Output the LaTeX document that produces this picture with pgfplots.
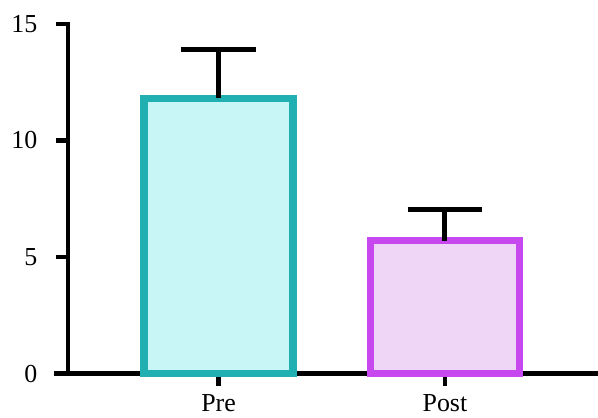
\documentclass[border=0pt]{standalone}
\usepackage{fontspec}
\setmainfont{Liberation Serif}
\usepackage{pgfplots}
\pgfplotsset{compat=1.18}
\definecolor{preedge}{RGB}{32,176,178}
\definecolor{prefill}{RGB}{200,246,246}
\definecolor{postedge}{RGB}{200,72,240}
\definecolor{postfill}{RGB}{239,214,246}
\begin{document}
\begin{tikzpicture}
\begin{axis}[
  at={(0,0)}, anchor=south west,
  scale only axis,
  width=530pt, height=351pt,
  xmin=-0.666, xmax=1.666,
  ymin=0, ymax=15,
  axis lines=left,
  axis line style={-, line width=4.5pt, line cap=rect},
  x axis line style={shorten <=-12pt},
  xtick={0,1}, xticklabels={Pre,Post},
  ytick={0,5,10,15},
  tick align=outside,
  major tick length=12pt,
  tick style={line width=4.5pt, black},
  font=\fontsize{26}{30}\selectfont,
  /pgf/number format/assume math mode=true,
  yticklabel style={xshift=-15pt},
  xticklabel style={anchor=base, inner sep=0pt, text depth=0pt, yshift=-26pt},
  clip=false,
]
\addplot[ybar, bar width=149.5pt, draw=preedge, fill=prefill, line width=7.5pt,
  error bars/.cd, y dir=plus, y explicit,
  error bar style={line width=5pt, black},
  error mark options={mark size=37.5pt, line width=5pt, black, rotate=90}]
  coordinates {(0,11.81) +- (0,2.08)};
\addplot[ybar, bar width=149.5pt, draw=postedge, fill=postfill, line width=7.5pt,
  error bars/.cd, y dir=plus, y explicit,
  error bar style={line width=5pt, black},
  error mark options={mark size=37.5pt, line width=5pt, black, rotate=90}]
  coordinates {(1,5.70) +- (0,1.32)};
\end{axis}
\path[use as bounding box] (-68pt,-44pt) rectangle (530pt,375pt);
\end{tikzpicture}
\end{document}
